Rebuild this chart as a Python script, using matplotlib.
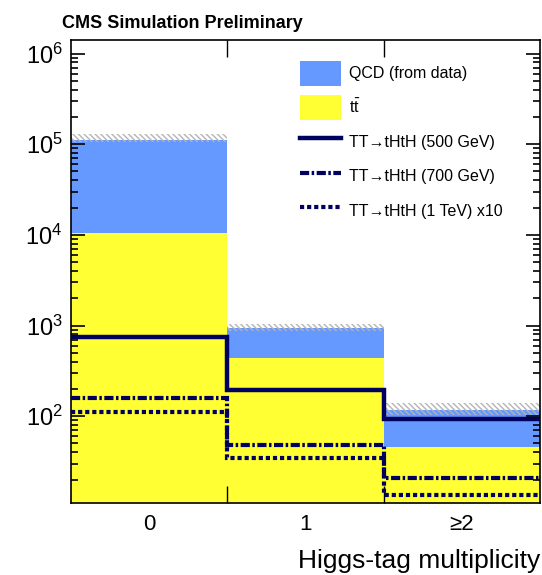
import numpy as np
import matplotlib
matplotlib.use("Agg")
import matplotlib.pyplot as plt
from matplotlib.patches import Patch
from matplotlib.lines import Line2D

plt.rcParams['font.family'] = ['Liberation Sans', 'DejaVu Sans']
plt.rcParams['mathtext.fontset'] = 'custom'
plt.rcParams['mathtext.rm'] = 'Liberation Sans'
plt.rcParams['hatch.linewidth'] = 1.0

# -----------------------------
# DATA
# -----------------------------
categories = ["0", "1", "≥2"]
ttbar = [1.05e4, 434, 45.7]
qcd = [1.02e5, 516, 70]
unc_low = [1.05e5, 880, 102]
unc_high = [1.30e5, 1.04e3, 140]
sig500 = [740, 193, 93]
sig700 = [158, 48, 21]
sig1000x10 = [110, 34.5, 13.5]

edges = np.arange(len(categories) + 1)
total = np.array(ttbar) + np.array(qcd)

fig = plt.figure(figsize=(5.42, 5.75), dpi=100)
ax = fig.add_axes([0.131, 0.125, 0.865, 0.805])

navy = '#00005e'
blue = '#6699ff'
yellow = '#ffff33'
dashdot = (0, (2.2, 0.6, 0.6, 0.6))
dotted = (0, (1.0, 0.7))

# stacked backgrounds
ax.stairs(ttbar, edges, baseline=1, fill=True, color=yellow, zorder=1)
ax.stairs(total, edges, baseline=ttbar, fill=True, color=blue, zorder=1)
# uncertainty band (light grey hatch)
ax.bar(edges[:-1] + 0.5, np.array(unc_high) - np.array(unc_low), width=1.0,
       bottom=unc_low, fill=False, hatch='\\\\\\\\\\\\', edgecolor='#b4b4b4',
       linewidth=0, zorder=2)

# signals
ax.stairs(sig500, edges, baseline=None, color=navy, lw=3.2, zorder=4)
ax.stairs(sig700, edges, baseline=None, color=navy, lw=3.0, linestyle=dashdot, zorder=4)
ax.stairs(sig1000x10, edges, baseline=None, color=navy, lw=3.0, linestyle=dotted, zorder=4)

ax.set_yscale('log')
ax.set_ylim(11, 1.4e6)
ax.set_xlim(0, 3)

# x axis: labels at centres, ticks at bin edges
ax.set_xticks(edges[1:-1])
ax.set_xticklabels([])
ax.set_xticks(edges[:-1] + 0.5, minor=True)
ax.set_xticklabels(categories, minor=True, fontsize=16)
ax.tick_params(axis='x', which='minor', length=0, pad=8)
ax.tick_params(axis='x', which='major', direction='in', length=12, width=1,
               top=True, bottom=True)

ax.tick_params(axis='y', which='major', direction='in', length=10, width=1.2,
               left=True, right=True, labelsize=17, pad=6)
ax.tick_params(axis='y', which='minor', direction='in', length=5, width=1.2,
               left=True, right=True)

for sp in ax.spines.values():
    sp.set_linewidth(1.2)

ax.set_xlabel("Higgs-tag multiplicity", fontsize=19, loc='right', labelpad=10)
fig.text(0.115, 0.945, "CMS Simulation Preliminary", fontsize=13,
         fontweight='bold', ha='left', va='bottom')

handles = [
    Patch(facecolor=blue, edgecolor='none'),
    Patch(facecolor=yellow, edgecolor='none'),
    Line2D([], [], color=navy, lw=3.2),
    Line2D([], [], color=navy, lw=3.0, linestyle=dashdot),
    Line2D([], [], color=navy, lw=3.0, linestyle=dotted),
]
labels = [
    "QCD (from data)",
    r"t$\bar{\mathrm{t}}$",
    "TT→tHtH (500 GeV)",
    "TT→tHtH (700 GeV)",
    "TT→tHtH (1 TeV) x10",
]
leg = ax.legend(handles, labels, loc='upper left', bbox_to_anchor=(0.488, 0.955),
                frameon=False, fontsize=11.5, handlelength=2.6, handleheight=2.0,
                labelspacing=0.6, handletextpad=0.5, borderaxespad=0,
                borderpad=0)

fig.savefig("out.png", dpi=100)
